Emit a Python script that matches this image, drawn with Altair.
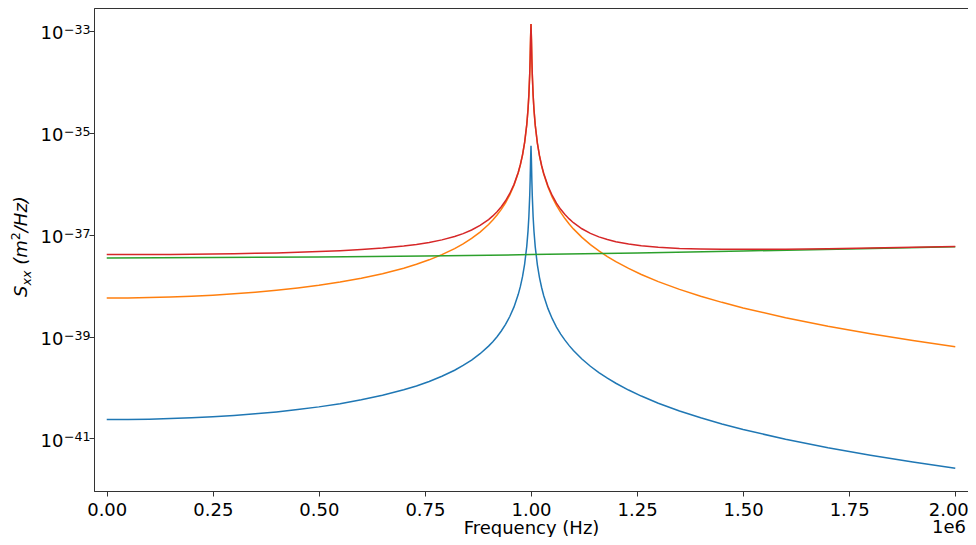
import altair as alt
import pandas as pd

freq_mhz = [0, 0.05, 0.1, 0.15, 0.2, 0.25, 0.3, 0.35, 0.4, 0.45, 0.5, 0.55, 0.6, 0.65, 0.7,
            0.73, 0.76, 0.79, 0.82, 0.84, 0.86, 0.88, 0.9, 0.91, 0.92, 0.93, 0.94, 0.95, 0.96,
            0.97, 0.975, 0.98, 0.985, 0.99, 0.993, 0.995, 0.997, 0.998, 0.999, 1.0,
            1.001, 1.002, 1.003, 1.005, 1.007, 1.01, 1.015, 1.02, 1.025, 1.03, 1.04, 1.05,
            1.06, 1.07, 1.08, 1.09, 1.1, 1.12, 1.14, 1.16, 1.18, 1.2, 1.23, 1.26, 1.3, 1.35,
            1.4, 1.45, 1.5, 1.6, 1.7, 1.8, 1.9, 2.0]

# log10 of S_xx (m^2/Hz), one list per curve
blue_log = [-40.630, -40.628, -40.621, -40.610, -40.595, -40.574, -40.548, -40.516, -40.479,
            -40.433, -40.380, -40.317, -40.242, -40.153, -40.045, -39.969, -39.881, -39.780,
            -39.661, -39.568, -39.461, -39.337, -39.188, -39.101, -39.003, -38.891, -38.762,
            -38.608, -38.419, -38.173, -38.017, -37.827, -37.580, -37.232, -36.928, -36.646,
            -36.233, -35.935, -35.546, -35.258,
            -35.547, -35.938, -36.236, -36.650, -36.935, -37.241, -37.593, -37.844, -38.039,
            -38.199, -38.453, -38.651, -38.814, -38.952, -39.072, -39.179, -39.274, -39.441,
            -39.583, -39.707, -39.817, -39.917, -40.050, -40.168, -40.308, -40.460, -40.595,
            -40.715, -40.824, -41.016, -41.183, -41.330, -41.463, -41.584]

orange_log = [-38.245, -38.243, -38.236, -38.225, -38.210, -38.189, -38.163, -38.131, -38.094,
              -38.048, -37.995, -37.932, -37.857, -37.768, -37.660, -37.584, -37.496, -37.395,
              -37.276, -37.183, -37.076, -36.952, -36.803, -36.716, -36.618, -36.506, -36.377,
              -36.223, -36.034, -35.788, -35.632, -35.442, -35.195, -34.847, -34.543, -34.261,
              -33.848, -33.550, -33.161, -32.873,
              -33.162, -33.553, -33.851, -34.265, -34.550, -34.856, -35.208, -35.459, -35.654,
              -35.814, -36.068, -36.266, -36.429, -36.567, -36.687, -36.794, -36.889, -37.056,
              -37.198, -37.322, -37.432, -37.532, -37.665, -37.783, -37.923, -38.075, -38.210,
              -38.330, -38.439, -38.631, -38.798, -38.945, -39.078, -39.199]

red_log = [-37.394, -37.393, -37.392, -37.390, -37.386, -37.382, -37.376, -37.369, -37.360,
           -37.349, -37.335, -37.318, -37.295, -37.266, -37.226, -37.195, -37.155, -37.105,
           -37.039, -36.982, -36.911, -36.822, -36.706, -36.635, -36.552, -36.454, -36.338,
           -36.195, -36.016, -35.777, -35.625, -35.437, -35.192, -34.846, -34.542, -34.261,
           -33.848, -33.550, -33.161, -32.873,
           -33.162, -33.553, -33.851, -34.265, -34.549, -34.855, -35.205, -35.454, -35.646,
           -35.802, -36.048, -36.234, -36.384, -36.506, -36.607, -36.694, -36.768, -36.887,
           -36.977, -37.046, -37.099, -37.141, -37.187, -37.220, -37.250, -37.272, -37.284,
           -37.289, -37.291, -37.287, -37.278, -37.265, -37.251, -37.236]

green_freq_mhz = [0, 0.25, 0.5, 0.75, 1.0, 1.25, 1.5, 1.75, 2.0]
green_log = [-37.460, -37.450, -37.442, -37.421, -37.394, -37.360, -37.323, -37.283, -37.240]

series_names = ["s1", "s2", "s3", "s4"]
series_colors = ["#1f77b4", "#ff7f0e", "#2ca02c", "#d62728"]
x_ticks = [0, 250000, 500000, 750000, 1000000, 1250000, 1500000, 1750000, 2000000]
y_ticks = [1e-41, 1e-39, 1e-37, 1e-35, 1e-33]
y_tick_exponents = ["−41", "−39", "−37", "−35", "−33"]

assert len(freq_mhz) == len(blue_log) == len(orange_log) == len(red_log)
assert len(green_freq_mhz) == len(green_log)

rows = []
for name, fx, vals in [("s1", freq_mhz, blue_log), ("s2", freq_mhz, orange_log),
                       ("s3", green_freq_mhz, green_log), ("s4", freq_mhz, red_log)]:
    for i, (f, v) in enumerate(zip(fx, vals)):
        rows.append({"series": name, "f": f * 1e6, "S": 10.0 ** v, "order": i})
df = pd.DataFrame(rows)
exp_df = pd.DataFrame({"S": y_ticks, "e": y_tick_exponents})

FONT = "DejaVu Sans"
FS = 18
FS_SMALL = 12.6

y_scale = alt.Scale(type="log", domain=[10 ** -42.03, 10 ** -32.557], nice=False)
y_axis = alt.Axis(values=y_ticks, labelExpr="'10'", title=None,
                  labelBaseline="alphabetic", labelOffset=8,
                  grid=False, tickSize=5, labelPadding=26)

lines = alt.Chart(df).mark_line(strokeWidth=1.5, clip=True).encode(
    x=alt.X("f:Q",
            scale=alt.Scale(domain=[-30000, 2030000], nice=False, zero=False),
            axis=alt.Axis(values=x_ticks, labelExpr="format(datum.value/1e6, '.2f')",
                          labelOffset={"condition": {"test": "datum.value == 2000000",
                                                     "value": -7},
                                       "value": 0},
                          title="Frequency (Hz)", titleY=42, titleBaseline="alphabetic",
                          grid=False, tickSize=5, labelPadding=5, labelFlush=False)),
    y=alt.Y("S:Q", scale=y_scale, axis=y_axis),
    color=alt.Color("series:N", scale=alt.Scale(domain=series_names, range=series_colors),
                    legend=None),
    order=alt.Order("order:Q"),
)

# superscript exponents of the y tick labels (10^-33 ...)
exponents = alt.Chart(exp_df).mark_text(
    align="left", baseline="alphabetic", font=FONT, fontSize=FS_SMALL, color="black", dy=3
).encode(x=alt.value(-30), y=alt.Y("S:Q", scale=y_scale, axis=y_axis), text="e:N")


def txt(s, x, y, size=FS, style="italic", angle=0, align="left"):
    return alt.Chart(alt.Data(values=[{"t": s}])).mark_text(
        align=align, baseline="alphabetic", font=FONT, fontSize=size, fontStyle=style,
        color="black", angle=angle
    ).encode(x=alt.value(x), y=alt.value(y), text="t:N")


# rotated y-axis title  S_xx (m^2/Hz)
ty0 = 289
title_parts = [
    txt("S", -67, ty0, angle=270),
    txt("xx", -63.5, ty0 - 11.6, size=FS_SMALL, angle=270),
    txt("(m", -67, ty0 - 32.2, angle=270),
    txt("2", -74, ty0 - 56.8, size=FS_SMALL, style="normal", angle=270),
    txt("/Hz)", -67, ty0 - 64.8, angle=270),
]

offset = txt("1e6", 872, 483 + 42, style="normal", align="right")

chart = alt.layer(lines, exponents, *title_parts, offset).properties(
    width=874, height=483,
    autosize=alt.AutoSizeParams(type="none"),
    padding={"left": 86, "top": 0, "right": 0, "bottom": 46},
).configure_view(
    stroke="#333", strokeWidth=1
).configure_axis(
    labelFont=FONT, titleFont=FONT, labelFontSize=FS, titleFontSize=FS,
    labelColor="black", titleColor="black", titleFontWeight="normal",
    tickColor="#333", domainColor="#333", tickWidth=1, domainWidth=1,
)

chart.save("out.html", embed_options={"renderer": "svg", "actions": False})
